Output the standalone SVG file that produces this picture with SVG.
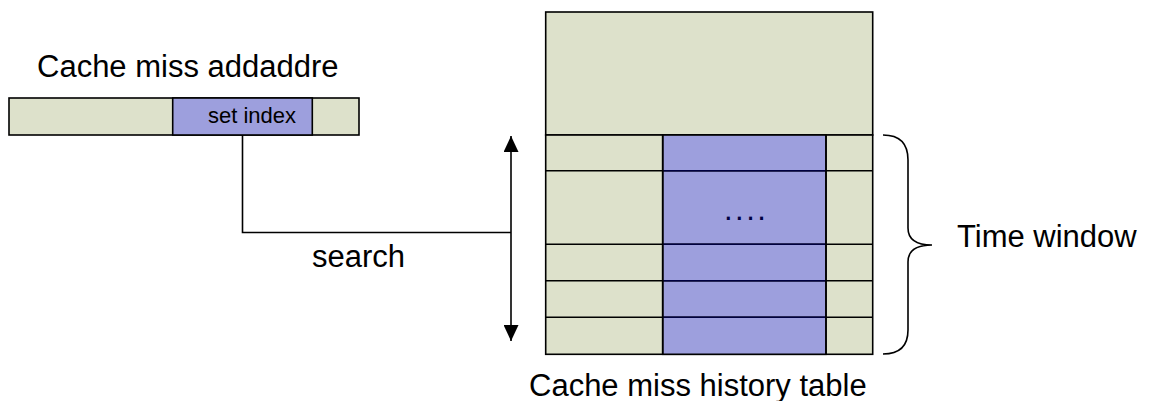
<svg xmlns="http://www.w3.org/2000/svg" width="1154" height="401" viewBox="0 0 1154 401">
<style>
.g{fill:#DDE1CB;stroke:#000;stroke-width:1.6}
.p{fill:#9D9FDD;stroke:#000;stroke-width:1.6}
.pl{stroke:#000040;stroke-width:1.6;fill:none}
.t{font-family:"Liberation Sans",Arial,sans-serif;font-size:31px;fill:#000}
.c{fill:none;stroke:#000;stroke-width:1.6}
</style>
<defs>
<marker id="ah" viewBox="0 0 16 15" refX="16" refY="7.5" markerWidth="16" markerHeight="15" markerUnits="userSpaceOnUse" orient="auto-start-reverse">
<path d="M0,0 L16,7.5 L0,15 Z" fill="#000"/>
</marker>
</defs>
<text class="t" x="37" y="77">Cache miss addaddre</text>
<g id="address">
<rect class="g" x="9" y="98" width="350" height="37"/>
<rect class="p" x="172.7" y="98" width="139.6" height="37"/>
<text x="208" y="123" style="font-family:'Liberation Sans',Arial,sans-serif;font-size:22px;fill:#000">set index</text>
</g>
<g id="table">
<rect class="g" x="545.7" y="12" width="327" height="123"/>
<rect class="g" x="545.7" y="135" width="327" height="219.3"/>
<rect class="p" x="662.7" y="135" width="163.3" height="219.3"/>
<line class="c" x1="545.7" y1="170.7" x2="872.7" y2="170.7"/>
<line class="c" x1="545.7" y1="244.3" x2="872.7" y2="244.3"/>
<line class="c" x1="545.7" y1="280.7" x2="872.7" y2="280.7"/>
<line class="c" x1="545.7" y1="317.3" x2="872.7" y2="317.3"/>
<line class="pl" x1="662.7" y1="170.7" x2="826" y2="170.7"/>
<line class="pl" x1="662.7" y1="244.3" x2="826" y2="244.3"/>
<line class="pl" x1="662.7" y1="280.7" x2="826" y2="280.7"/>
<line class="pl" x1="662.7" y1="317.3" x2="826" y2="317.3"/>
<line class="c" x1="662.7" y1="135" x2="662.7" y2="354.3"/>
<line class="c" x1="826" y1="135" x2="826" y2="354.3"/>
<text x="724" y="220" style="font-family:'Liberation Sans',Arial,sans-serif;font-size:31px;fill:#000040;letter-spacing:2.5px">....</text>
</g>
<text class="t" x="529" y="396">Cache miss history table</text>
<g id="connectors">
<polyline class="c" points="242.5,135 242.5,232.5 511,232.5"/>
<line class="c" x1="511" y1="136" x2="511" y2="341" marker-start="url(#ah)" marker-end="url(#ah)"/>
<path class="c" d="M883,135 Q908,135 908,160 L908,228 Q908,245 932,245 Q908,245 908,262 L908,330 Q908,354 883,354"/>
</g>
<text class="t" x="312" y="267">search</text>
<text class="t" x="957" y="247">Time window</text>
</svg>
